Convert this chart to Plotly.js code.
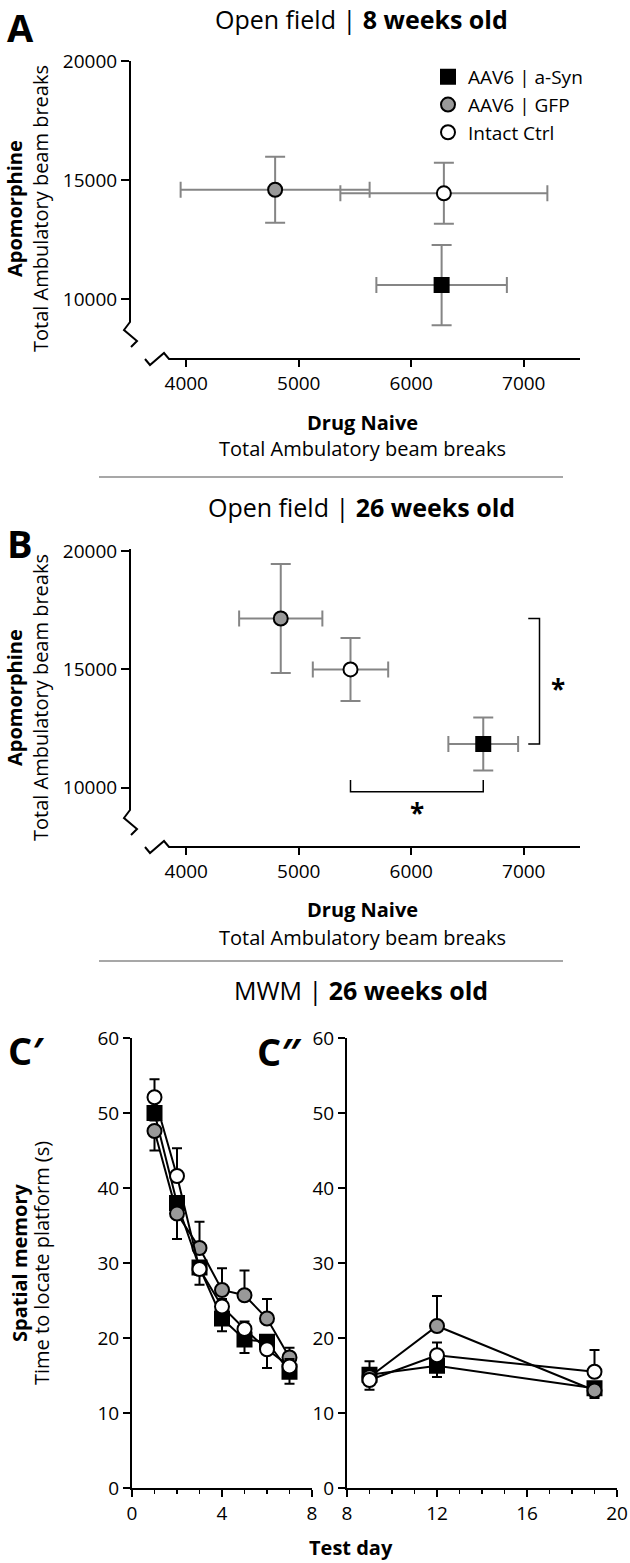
<!DOCTYPE html>
<html>
<head>
<meta charset="utf-8">
<script src="https://cdn.plot.ly/plotly-3.0.1.min.js"></script>
<style>
html,body{margin:0;padding:0;background:#fff;}
#chart{width:630px;height:1563px;}
</style>
</head>
<body>
<div id="chart"></div>
<script>
// ---------- DATA ----------
const groups = ['AAV6 | a-Syn', 'AAV6 | GFP', 'Intact Ctrl'];

// Panel A : Open field, 8 weeks old  (order: a-Syn, GFP, Intact)
const naiveA    = [6270, 4790, 6290];
const naiveAErr = [580, 840, 920];
const apoA      = [10600, 14600, 14450];
const apoAErr   = [1680, 1380, 1280];

// Panel B : Open field, 26 weeks old
const naiveB    = [6640, 4840, 5460];
const naiveBErr = [310, 370, 335];
const apoB      = [11850, 17150, 15000];
const apoBErr   = [1120, 2300, 1330];

// Panel C' : MWM acquisition days
const daysC1 = [1, 2, 3, 4, 5, 6, 7];
const asynC1       = [50.0, 38.0, 29.4, 22.6, 19.8, 19.5, 15.5];
const asynC1Up     = [0, 0, 0, 0, 0, 0, 0];
const asynC1Down   = [1.0, 1.0, 1.0, 1.7, 1.8, 1.0, 1.6];
const gfpC1        = [47.6, 36.6, 32.0, 26.4, 25.7, 22.6, 17.4];
const gfpC1Up      = [0, 0, 3.5, 2.9, 3.3, 2.6, 1.3];
const gfpC1Down    = [2.6, 3.4, 0, 0, 0, 0, 0];
const intactC1     = [52.1, 41.6, 29.2, 24.2, 21.2, 18.5, 16.2];
const intactC1Up   = [2.4, 3.7, 0, 1.0, 1.0, 0, 1.0];
const intactC1Down = [0, 0, 2.1, 0, 0, 2.5, 0];

// Panel C'' : probe / retention days
const daysC2 = [9, 12, 19];
const asynC2       = [15.1, 16.3, 13.3];
const asynC2Up     = [1.8, 0, 0];
const asynC2Down   = [0, 1.5, 1.0];
const gfpC2        = [14.8, 21.6, 13.0];
const gfpC2Up      = [0, 4.0, 0];
const gfpC2Down    = [1.0, 0, 1.0];
const intactC2     = [14.4, 17.7, 15.5];
const intactC2Up   = [0, 1.7, 2.9];
const intactC2Down = [1.3, 0, 0];

// Tick values and labels
const xTicksAB = [4000, 5000, 6000, 7000];
const xTickLabelsAB = ['4000', '5000', '6000', '7000'];
const yTicksAB = [10000, 15000, 20000];
const yTickLabelsAB = ['10000', '15000', '20000'];

// ---------- STYLE ----------
const FONT = '"Open Sans", sans-serif';
const W = 630, H = 1563;
const fx = px => px / W;
const fy = py => 1 - py / H;
const symbols = ['square', 'circle', 'circle'];
const fills = ['#000000', '#999999', '#ffffff'];
const GREY_ERR = '#858585';

const traces = [];

function addPanelAB(naive, naiveErr, apo, apoErr, xa, ya, showLegend) {
  for (let i = 0; i < groups.length; i++) {
    traces.push({
      type: 'scatter', mode: 'markers',
      name: groups[i], legendgroup: groups[i], showlegend: showLegend,
      x: [naive[i]], y: [apo[i]], xaxis: xa, yaxis: ya,
      error_x: {type: 'data', array: [naiveErr[i]], color: GREY_ERR, thickness: 2, width: 8},
      error_y: {type: 'data', array: [apoErr[i]], color: GREY_ERR, thickness: 2, width: 10},
      marker: {symbol: symbols[i], size: 14, color: fills[i], line: {color: '#000', width: 2}},
      hoverinfo: 'skip'
    });
  }
}
addPanelAB(naiveA, naiveAErr, apoA, apoAErr, 'x', 'y', true);
addPanelAB(naiveB, naiveBErr, apoB, apoBErr, 'x2', 'y2', false);

function addPanelC(days, seriesList, xa, ya) {
  seriesList.forEach((s, i) => {
    traces.push({
      type: 'scatter', mode: 'lines+markers',
      name: groups[i], legendgroup: groups[i], showlegend: false,
      x: days, y: s.y, xaxis: xa, yaxis: ya,
      line: {color: '#000', width: 2},
      error_y: {type: 'data', symmetric: false, array: s.up, arrayminus: s.down, color: '#000', thickness: 2, width: 5},
      marker: {symbol: symbols[i], size: 14, color: fills[i], line: {color: '#000', width: 2}},
      hoverinfo: 'skip'
    });
  });
}
addPanelC(daysC1, [
  {y: asynC1, up: asynC1Up, down: asynC1Down},
  {y: gfpC1, up: gfpC1Up, down: gfpC1Down},
  {y: intactC1, up: intactC1Up, down: intactC1Down}
], 'x3', 'y3');
addPanelC(daysC2, [
  {y: asynC2, up: asynC2Up, down: asynC2Down},
  {y: gfpC2, up: gfpC2Up, down: gfpC2Down},
  {y: intactC2, up: intactC2Up, down: intactC2Down}
], 'x4', 'y4');

const axBase = {
  showgrid: false, zeroline: false, ticks: 'outside', tickwidth: 2, tickcolor: '#000',
  ticklen: 7, tickfont: {family: FONT, size: 19, color: '#000'},
  linecolor: '#000', linewidth: 2, fixedrange: true, automargin: false
};

// ---------- shapes (axis lines with breaks, separators, brackets) ----------
const P = pts => 'M ' + pts.map(p => fx(p[0]) + ',' + fy(p[1])).join(' L ');
const lineStyle = {color: '#000', width: 2};
const shapes = [];
[0, 488].forEach(dy => {
  shapes.push({type: 'path', xref: 'paper', yref: 'paper', line: lineStyle,
    path: P([[130, 61 + dy], [130, 322 + dy], [124, 330 + dy], [137, 341 + dy], [131, 347 + dy]])});
  shapes.push({type: 'path', xref: 'paper', yref: 'paper', line: lineStyle,
    path: P([[145, 359 + dy], [150, 365 + dy], [164, 353 + dy], [169, 359 + dy], [580, 359 + dy]])});
});
// separators
[477, 961].forEach(py => {
  shapes.push({type: 'line', xref: 'paper', yref: 'paper', x0: fx(99), x1: fx(563), y0: fy(py), y1: fy(py),
    line: {color: '#8a8a8a', width: 1.5}});
});
// significance brackets in B (data coordinates)
const bx = 7140, bTick = 100;
shapes.push({type: 'path', xref: 'x2', yref: 'y2', line: {color: '#000', width: 1.5},
  path: `M ${bx - bTick},${apoB[1]} L ${bx},${apoB[1]} L ${bx},${apoB[0]} L ${bx - bTick},${apoB[0]}`});
const hy = 9830, hTick = 500;
shapes.push({type: 'path', xref: 'x2', yref: 'y2', line: {color: '#000', width: 1.5},
  path: `M ${naiveB[2]},${hy + hTick} L ${naiveB[2]},${hy} L ${naiveB[0]},${hy} L ${naiveB[0]},${hy + hTick}`});

// ---------- annotations ----------
function ann(text, px, py, size, extra) {
  return Object.assign({
    text: text, xref: 'paper', yref: 'paper', x: fx(px), y: fy(py),
    xanchor: 'center', yanchor: 'middle', showarrow: false,
    font: {family: FONT, size: size, color: '#000'}
  }, extra || {});
}
const annotations = [
  ann('Open field | <b>8 weeks old</b>', 361, 19, 25),
  ann('Open field | <b>26 weeks old</b>', 361, 507, 25),
  ann('MWM | <b>26 weeks old</b>', 361, 990, 25),
  ann('<b>A</b>', 20, 0, 38, {yanchor: 'top', borderpad: 0}),
  ann('<b>B</b>', 20, 543, 38),
  ann('<b>C′</b>', 26, 1050, 38),
  ann('<b>C″</b>', 279, 1051, 38),
  ann('<b>Drug Naive</b>', 362, 423, 20),
  ann('Total Ambulatory beam breaks', 362, 449, 20),
  ann('<b>Drug Naive</b>', 362, 910, 20),
  ann('Total Ambulatory beam breaks', 362, 937, 20),
  ann('<b>Apomorphine</b>', 15, 209, 20, {textangle: -90}),
  ann('Total Ambulatory beam breaks', 41, 209, 20, {textangle: -90}),
  ann('<b>Apomorphine</b>', 15, 698, 20, {textangle: -90}),
  ann('Total Ambulatory beam breaks', 41, 698, 20, {textangle: -90}),
  ann('<b>Spatial memory</b>', 19, 1263, 20, {textangle: -90}),
  ann('Time to locate platform (s)', 41, 1263, 20, {textangle: -90}),
  ann('<b>Test day</b>', 351, 1547, 20),
  {text: '<b>*</b>', xref: 'x2', yref: 'y2', x: bx, y: (apoB[1] + apoB[0]) / 2, xshift: 18, yshift: -8,
   showarrow: false, xanchor: 'center', yanchor: 'middle', font: {family: FONT, size: 26, color: '#000'}},
  {text: '<b>*</b>', xref: 'x2', yref: 'y2', x: (naiveB[2] + naiveB[0]) / 2, y: hy, yshift: -21,
   showarrow: false, xanchor: 'center', yanchor: 'middle', font: {family: FONT, size: 26, color: '#000'}}
];

const layout = {
  width: W, height: H,
  margin: {l: 0, r: 0, t: 0, b: 0, pad: 0},
  paper_bgcolor: '#fff', plot_bgcolor: 'rgba(0,0,0,0)',
  font: {family: FONT, size: 19, color: '#000'},
  showlegend: true,
  legend: {x: fx(428), y: fy(58), xanchor: 'left', yanchor: 'top',
    font: {family: FONT, size: 19, color: '#000'}, bgcolor: 'rgba(0,0,0,0)',
    borderwidth: 0, tracegroupgap: 0, itemwidth: 30, traceorder: 'normal'},
  xaxis: Object.assign({}, axBase, {domain: [fx(130), fx(580)], range: [3500, 7500], tickvals: xTicksAB, ticktext: xTickLabelsAB, showline: false, anchor: 'y'}),
  yaxis: Object.assign({}, axBase, {domain: [fy(359), fy(61)], range: [7500, 20000], tickvals: yTicksAB, ticktext: yTickLabelsAB, showline: false, anchor: 'x', ticklen: 8}),
  xaxis2: Object.assign({}, axBase, {domain: [fx(130), fx(580)], range: [3500, 7500], tickvals: xTicksAB, ticktext: xTickLabelsAB, showline: false, anchor: 'y2'}),
  yaxis2: Object.assign({}, axBase, {domain: [fy(847), fy(551)], range: [7500, 20000], tickvals: yTicksAB, ticktext: yTickLabelsAB, showline: false, anchor: 'x2', ticklen: 8}),
  xaxis3: Object.assign({}, axBase, {domain: [fx(132), fx(312)], range: [0, 8], tick0: 0, dtick: 4, showline: true, anchor: 'y3',
    minor: {dtick: 1, tick0: 0, ticks: 'outside', ticklen: 4, tickwidth: 1.5, tickcolor: '#000', showgrid: false}}),
  yaxis3: Object.assign({}, axBase, {domain: [fy(1488), fy(1038)], range: [0, 60], tick0: 0, dtick: 10, showline: true, anchor: 'x3'}),
  xaxis4: Object.assign({}, axBase, {domain: [fx(347), fx(617)], range: [8, 20], tick0: 0, dtick: 4, showline: true, anchor: 'y4',
    minor: {dtick: 1, tick0: 0, ticks: 'outside', ticklen: 4, tickwidth: 1.5, tickcolor: '#000', showgrid: false}}),
  yaxis4: Object.assign({}, axBase, {domain: [fy(1488), fy(1038)], range: [0, 60], tick0: 0, dtick: 10, showline: true, anchor: 'x4'}),
  shapes: shapes,
  annotations: annotations
};

Plotly.newPlot('chart', traces, layout, {staticPlot: true, displayModeBar: false});
</script>
</body>
</html>
